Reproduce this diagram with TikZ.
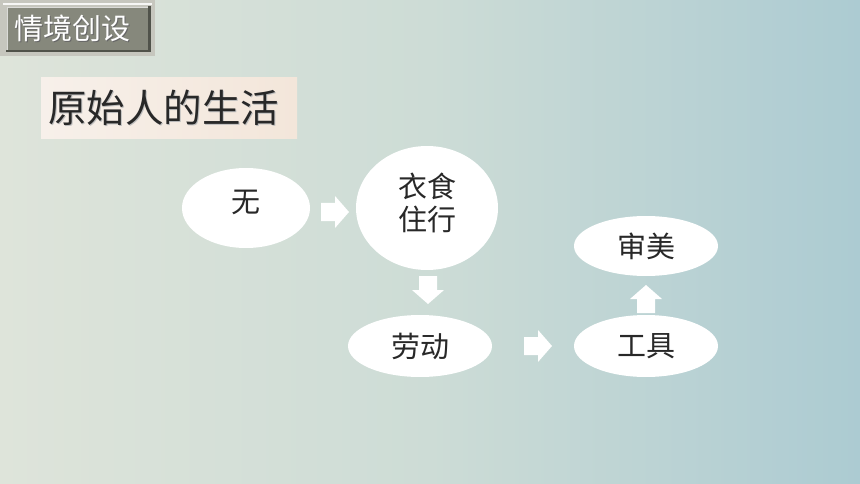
\documentclass[tikz,border=0pt]{standalone}
\usepackage{fontspec}
\newfontfamily\cjk{Noto Sans CJK SC}
\usetikzlibrary{shapes.geometric}
\definecolor{bgL}{RGB}{222,228,218}
\definecolor{bgM}{RGB}{205,220,214}
\definecolor{bgR}{RGB}{172,203,210}
\definecolor{frameC}{RGB}{198,198,190}
\definecolor{boxC}{RGB}{134,136,124}
\definecolor{darkrim}{RGB}{80,82,74}
\definecolor{titleL}{RGB}{247,240,234}
\definecolor{titleR}{RGB}{243,230,218}
\definecolor{txt}{RGB}{40,40,40}
\tikzset{
  bubble/.style={ellipse, fill=white, inner sep=0pt, font=\cjk\fontsize{29}{33}\selectfont, text=txt},
  blockarrow/.style={fill=white}
}
\begin{document}
\begin{tikzpicture}[x=1pt,y=-1pt]
\useasboundingbox (0,0) rectangle (860,484);
\shade[left color=bgL, right color=bgR, middle color=bgM] (0,0) rectangle (860,484);
% header box
\fill[frameC] (0,0) rectangle (155,56);
\fill[white!85!frameC] (3,3) rectangle (152,5);
\fill[darkrim] (148,6) rectangle (151,52);
\fill[darkrim] (6,50) rectangle (151,52);
\fill[boxC] (7,7) rectangle (148,50);
\draw[white!70!boxC, line width=1pt] (7.5,50) -- (7.5,7.5) -- (148,7.5);
\node[font=\cjk\fontsize{29}{32}\selectfont, text=black!60, anchor=west, inner sep=0pt] at (15.3,29.3) {情境创设};
\node[font=\cjk\fontsize{29}{32}\selectfont, text=white, anchor=west, inner sep=0pt] (hdr) at (14,28) {情境创设};
% title
\shade[left color=titleL, right color=titleR] (41,78) rectangle (297,139);
\node[font=\cjk\fontsize{38.5}{42}\selectfont, text=black!25, anchor=west, inner sep=0pt] at (49.2,109.2) {原始人的生活};
\node[font=\cjk\fontsize{38.5}{42}\selectfont, text=txt, anchor=west, inner sep=0pt] (title) at (48,108) {原始人的生活};
% nodes
\node[bubble, minimum width=128pt, minimum height=80pt] (wu) at (246,208) {};
\node[font=\cjk\fontsize{29}{33}\selectfont, text=txt, inner sep=0pt] at (wu.center) [yshift=6pt] {无};
\node[bubble, minimum width=142pt, minimum height=124pt] (yi) at (427,208) {};
\node[font=\cjk\fontsize{29}{33}\selectfont, text=txt, inner sep=0pt, align=center] at (yi.center) [yshift=5pt] {衣食\\住行};
\node[bubble, minimum width=144pt, minimum height=62pt] (lao) at (420,346) {劳动};
\node[bubble, minimum width=144pt, minimum height=62pt] (gong) at (646,346) {工具};
\node[bubble, minimum width=144pt, minimum height=60pt] (shen) at (646,246) {审美};
% block arrows
\coordinate (a1) at (335,212);
\fill[blockarrow] ([shift={(-14,-9)}]a1) -- ([shift={(0,-9)}]a1) -- ([shift={(0,-16)}]a1) -- ([shift={(14,0)}]a1) -- ([shift={(0,16)}]a1) -- ([shift={(0,9)}]a1) -- ([shift={(-14,9)}]a1) -- cycle;
\coordinate (a2) at (538,346);
\fill[blockarrow] ([shift={(-14,-9)}]a2) -- ([shift={(0,-9)}]a2) -- ([shift={(0,-16)}]a2) -- ([shift={(14,0)}]a2) -- ([shift={(0,16)}]a2) -- ([shift={(0,9)}]a2) -- ([shift={(-14,9)}]a2) -- cycle;
\coordinate (a3) at (428,290);
\fill[blockarrow] ([shift={(-9,-14)}]a3) -- ([shift={(-9,0)}]a3) -- ([shift={(-16,0)}]a3) -- ([shift={(0,14)}]a3) -- ([shift={(16,0)}]a3) -- ([shift={(9,0)}]a3) -- ([shift={(9,-14)}]a3) -- cycle;
\coordinate (a4) at (646,299);
\fill[blockarrow] ([shift={(-9,14)}]a4) -- ([shift={(-9,0)}]a4) -- ([shift={(-16,0)}]a4) -- ([shift={(0,-14)}]a4) -- ([shift={(16,0)}]a4) -- ([shift={(9,0)}]a4) -- ([shift={(9,14)}]a4) -- cycle;
\end{tikzpicture}
\end{document}
